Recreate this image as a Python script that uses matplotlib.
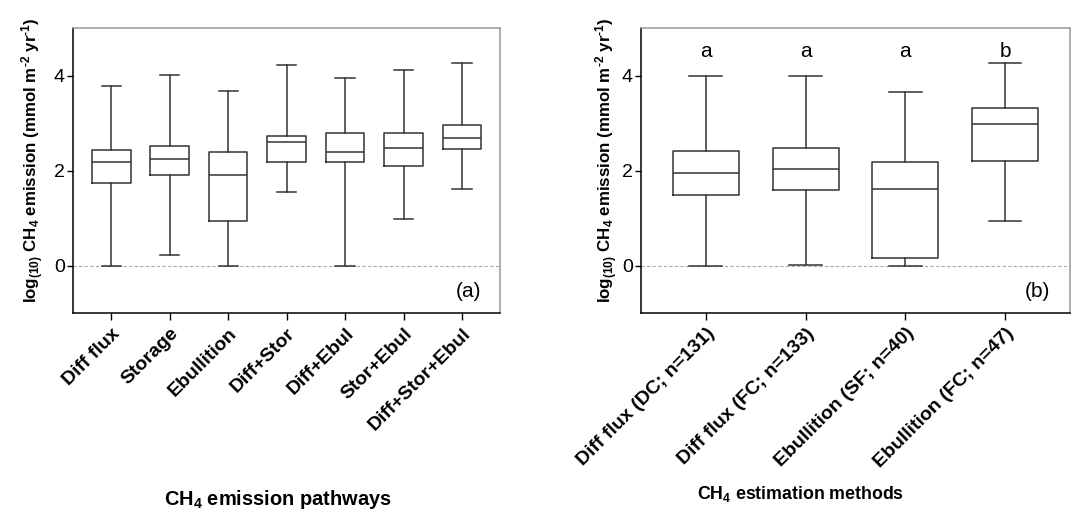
import matplotlib
matplotlib.use("Agg")
import matplotlib.pyplot as plt

plt.rcParams['font.family'] = ['Liberation Sans', 'DejaVu Sans']
plt.rcParams['mathtext.fontset'] = 'custom'
plt.rcParams['mathtext.rm'] = 'Liberation Sans'
plt.rcParams['mathtext.bf'] = 'Liberation Sans:bold'
plt.rcParams['mathtext.it'] = 'Liberation Sans:italic'
plt.rcParams['mathtext.default'] = 'bf'

# Panel (a): CH4 emission pathways
cats_a = ["Diff flux", "Storage", "Ebullition", "Diff+Stor", "Diff+Ebul", "Stor+Ebul", "Diff+Stor+Ebul"]
wlo_a = [0.00, 0.23, 0.00, 1.54, 0.00, 0.99, 1.62]
q1_a  = [1.73, 1.90, 0.93, 2.17, 2.17, 2.10, 2.46]
med_a = [2.17, 2.25, 1.90, 2.60, 2.39, 2.47, 2.69]
q3_a  = [2.44, 2.51, 2.40, 2.73, 2.79, 2.80, 2.97]
whi_a = [3.79, 4.01, 3.67, 4.22, 3.94, 4.11, 4.27]

# Panel (b): CH4 estimation methods
cats_b = ["Diff flux (DC; n=131)", "Diff flux (FC; n=133)", "Ebullition (SF; n=40)", "Ebullition (FC; n=47)"]
wlo_b = [0.00, 0.02, 0.00, 0.94]
q1_b  = [1.49, 1.59, 0.15, 2.21]
med_b = [1.95, 2.04, 1.61, 2.99]
q3_b  = [2.41, 2.48, 2.18, 3.32]
whi_b = [4.00, 3.99, 3.65, 4.27]
letters_b = ["a", "a", "a", "b"]
letter_y = 4.5

ylabel = "log$_{(10)}$ CH$_4$ emission (mmol m$^{\u2010 2}$ yr$^{\u2010 1}$)"

fig = plt.figure(figsize=(10.72, 5.17), dpi=100)
ax1 = fig.add_axes([0.0684, 0.3946, 0.398, 0.551])
ax2 = fig.add_axes([0.598, 0.3946, 0.400, 0.551])

box_color = '#333333'

def draw(ax, cats, wlo, q1, med, q3, whi, lblx):
    stats = []
    for c, a, b, m, d, e in zip(cats, wlo, q1, med, q3, whi):
        stats.append(dict(label=c, whislo=a, q1=b, med=m, q3=d, whishi=e, fliers=[]))
    pos = list(range(1, len(cats) + 1))
    ax.axhline(0, color='#aaaaaa', lw=0.8, ls=(0, (3, 2)), zorder=0)
    ax.bxp(stats, positions=pos, widths=0.66, showfliers=False,
           boxprops=dict(color=box_color, lw=1.1),
           medianprops=dict(color=box_color, lw=1.1),
           whiskerprops=dict(color=box_color, lw=1.1),
           capprops=dict(color=box_color, lw=1.1),
           capwidths=0.33)
    ax.set_xlim(0.35, len(cats) + 0.65)
    ax.set_ylim(-1, 5)
    ax.set_yticks([0, 2, 4])
    ax.tick_params(axis='y', labelsize=14, length=4, width=1, direction='out', pad=2)
    ax.tick_params(axis='x', length=5, width=1, direction='out')
    ax.set_xticks(pos)
    ax.set_xticklabels(cats, rotation=45, ha='right', rotation_mode='anchor',
                       fontsize=14, fontweight='bold')
    for s in ['left', 'bottom']:
        ax.spines[s].set_color('black')
        ax.spines[s].set_linewidth(1.1)
    for s in ['top', 'right']:
        ax.spines[s].set_color('#999999')
        ax.spines[s].set_linewidth(1.1)
    ax.set_ylabel(ylabel, fontsize=12.2, fontweight='bold')
    ax.yaxis.set_label_coords(lblx, 0.535)

draw(ax1, cats_a, wlo_a, q1_a, med_a, q3_a, whi_a, -0.063)
draw(ax2, cats_b, wlo_b, q1_b, med_b, q3_b, whi_b, -0.050)

for i, t in enumerate(letters_b):
    ax2.text(i + 1, letter_y, t, ha='center', va='center', fontsize=15)

ax1.text(0.955, 0.075, "(a)", transform=ax1.transAxes, ha='right', va='center', fontsize=15)
ax2.text(0.955, 0.075, "(b)", transform=ax2.transAxes, ha='right', va='center', fontsize=15)

fig.text(0.259, 0.033, "CH$_4$ emission pathways", ha='center', va='center',
         fontsize=14.4, fontweight='bold')
fig.text(0.747, 0.045, "CH$_4$ estimation methods", ha='center', va='center',
         fontsize=12.8, fontweight='bold')

fig.savefig("out.png", dpi=100)
